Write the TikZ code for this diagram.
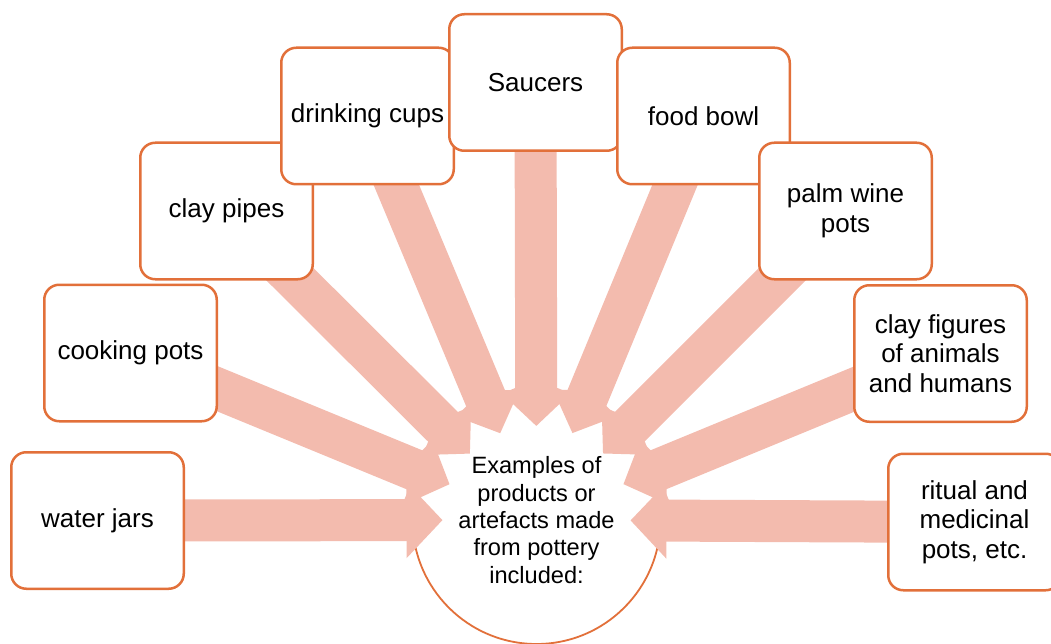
\documentclass[tikz,border=0pt]{standalone}
\usepackage{fontspec}
\setmainfont{Liberation Sans}
\usetikzlibrary{arrows.meta,calc}
\definecolor{bord}{HTML}{E2703A}
\definecolor{arrfill}{HTML}{F3BBAE}
\pgfdeclarelayer{bg}
\pgfdeclarelayer{mid}
\pgfsetlayers{bg,mid,main}
\begin{document}
\begin{tikzpicture}[x=1pt,y=-1pt,
  itembox/.style={draw=bord, line width=2.5pt, fill=white, rounded corners=15pt,
    minimum width=172.5pt, minimum height=136.5pt, align=center, inner sep=0pt,
    text=black, font=\fontsize{26}{29.5}\selectfont},
  hub/.style={circle, draw=bord, line width=1.8pt, fill=white, minimum size=248pt,
    inner sep=0pt, align=center, text=black, font=\fontsize{23.6}{27.3}\selectfont},
  conn/.style={color=arrfill, line width=42pt, -{Triangle[width=74pt,length=36pt]}}]
\useasboundingbox (0,0) rectangle (1051,644);
\begin{pgfonlayer}{bg}
\node[hub] (c) at (536.5,520) {Examples of\\products or\\artefacts made\\from pottery\\included:};
\end{pgfonlayer}
\node[itembox] (b1) at (97.5,520.5) {water jars};
\node[itembox] (b2) at (130.5,353) {cooking pots};
\node[itembox] (b3) at (226.5,211) {clay pipes};
\node[itembox] (b4) at (367.5,116) {drinking cups};
\node[itembox] (b5) at (535.5,82.5) {Saucers};
\node[itembox] (b6) at (703.5,116) {food bowl};
\node[itembox] (b7) at (845.5,211) {palm wine\\pots};
\node[itembox] (b8) at (940.5,353.5) {clay figures\\of animals\\and humans};
\node[itembox] (b9) at (974.5,522) {ritual and\\medicinal\\pots, etc.};
\begin{pgfonlayer}{mid}
\foreach \b in {b1,b2,b3,b4,b5,b6,b7,b8,b9}{
  \draw[conn] (\b.center) -- ($(c.center)!94pt!(\b.center)$);
}
\end{pgfonlayer}
\end{tikzpicture}
\end{document}
